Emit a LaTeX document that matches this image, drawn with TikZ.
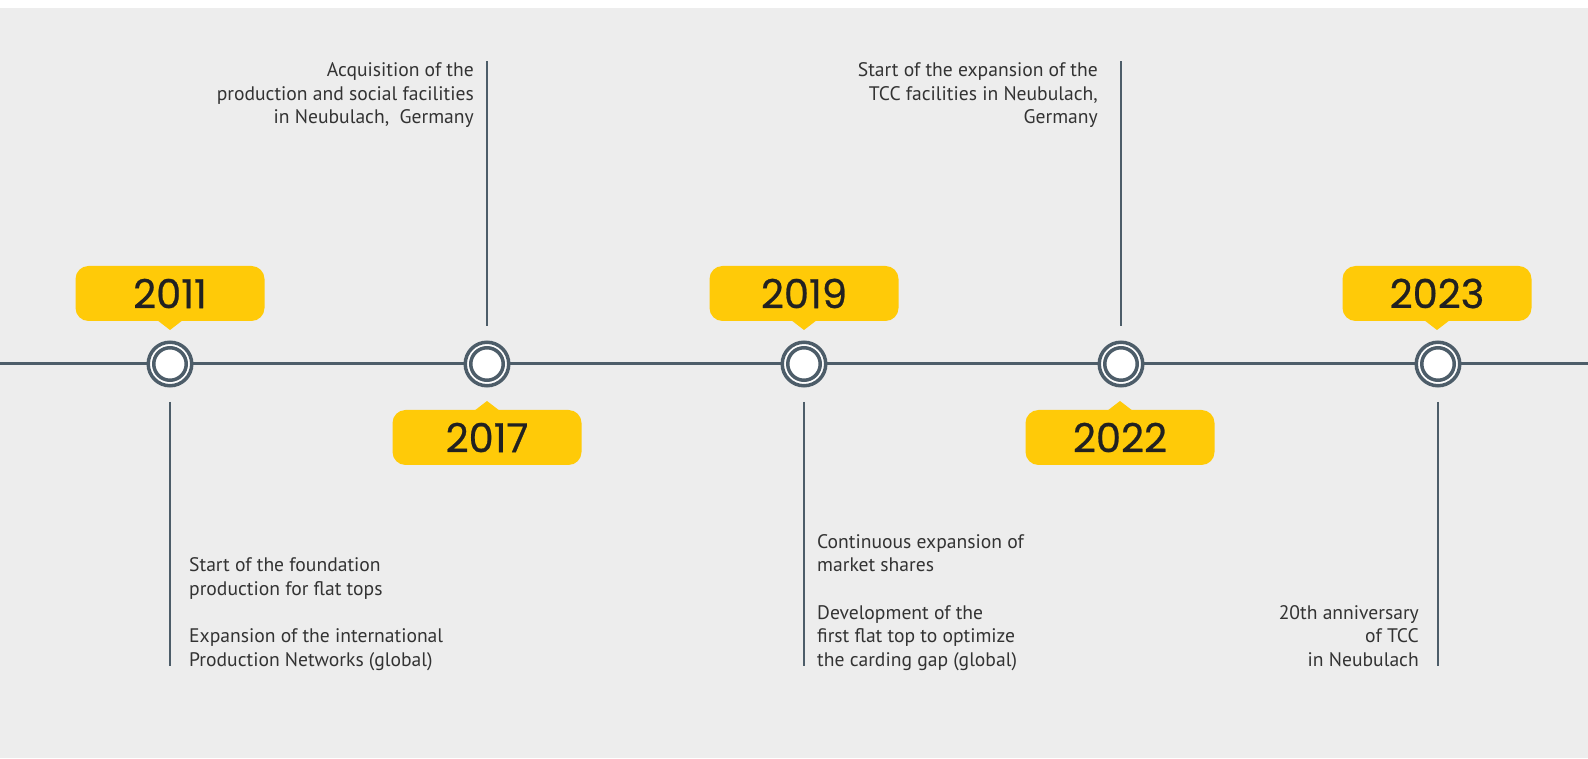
\documentclass[tikz,border=0pt]{standalone}
\usepackage{fontspec}
\setmainfont{PT Sans}
\newfontfamily\yrfont[FakeBold=0.6]{Poppins}
\usetikzlibrary{calc}
\definecolor{bgc}{HTML}{EDEDED}
\definecolor{slate}{HTML}{4D5D69}
\definecolor{ylw}{HTML}{FFCA08}
\definecolor{txt}{HTML}{333333}
\tikzset{ring/.style={circle, draw=slate, fill=white, line width=3.5pt, minimum size=43.5pt, inner sep=0,
    path picture={\draw[slate, line width=3.5pt] (path picture bounding box.center) circle (16.25pt);}},
  yr/.style={fill=ylw, rounded corners=13pt, minimum width=189pt, minimum height=55pt, inner sep=0, outer sep=0,
    text=black!87, font=\yrfont\fontsize{40}{42}\selectfont},
  stem/.style={draw=slate, line width=2.8pt},
  note/.style={inner sep=0, text=txt, font=\fontsize{19.6}{23.5}\selectfont}}

\begin{document}
\begin{tikzpicture}[x=1pt, y=1pt]
  \useasboundingbox (0,0) rectangle (1588,758);
  \fill[white] (0,0) rectangle (1588,758);
  \fill[bgc] (0,0) rectangle (1588,750);
  % time axis
  \coordinate (lft) at (0,394);
  \coordinate (rgt) at (1588,394);
  \draw[stem, line width=3pt] (lft) -- (rgt);
  % milestones
  \node[ring] (c2011) at (170,394) {};
  \node[ring] (c2017) at (487,394) {};
  \node[ring] (c2019) at (804,394) {};
  \node[ring] (c2022) at (1121,394) {};
  \node[ring] (c2023) at (1438,394) {};
  % year labels above
  \node[yr] (y2011) at (170,464.5) {2011};
  \node[yr] (y2019) at (804,464.5) {2019};
  \node[yr] (y2023) at (1437,464.5) {2023};
  \foreach \y in {y2011,y2019,y2023}
    \fill[ylw] ($(\y.south)+(-13,1)$) -- ++(13,-10) -- ++(13,10) -- cycle;
  % year labels below
  \node[yr] (y2017) at (487,320.5) {2017};
  \node[yr] (y2022) at (1120,320.5) {2022};
  \foreach \y in {y2017,y2022}
    \fill[ylw] ($(\y.north)+(-13,-1)$) -- ++(13,10) -- ++(13,-10) -- cycle;
  % stems
  \coordinate (t2017) at (487,697);
  \coordinate (t2022) at (1121,697);
  \coordinate (b2011) at (170,92);
  \coordinate (b2019) at (804,92);
  \coordinate (b2023) at (1438,92);
  \draw[stem, shorten <=14.5pt] (c2017.north) -- (t2017);
  \draw[stem, shorten <=14.5pt] (c2022.north) -- (t2022);
  \draw[stem, shorten <=14.5pt] (c2011.south) -- (b2011);
  \draw[stem, shorten <=14.5pt] (c2019.south) -- (b2019);
  \draw[stem, shorten <=14.5pt] (c2023.south) -- (b2023);
  % texts (base = last line)
  \node[note, align=right, anchor=base east] (n2017) at (474,634)
    {Acquisition of the\\production and social facilities\\in Neubulach, \ Germany};
  \node[note, align=right, anchor=base east] (n2022) at (1098,634)
    {Start of the expansion of the\\TCC facilities in Neubulach,\\Germany};
  \node[note, align=left, anchor=base west] (n2011) at (189,92)
    {Start of the foundation\\production for flat tops\\[23.5pt]Expansion of the international\\Production Networks (global)};
  \node[note, align=left, anchor=base west] (n2019) at (817,92)
    {Continuous expansion of\\market shares\\[23.5pt]Development of the\\first flat top to optimize\\the carding gap (global)};
  \node[note, align=right, anchor=base east] (n2023) at (1419,92)
    {20th anniversary\\of TCC\\in Neubulach};
\end{tikzpicture}
\end{document}
